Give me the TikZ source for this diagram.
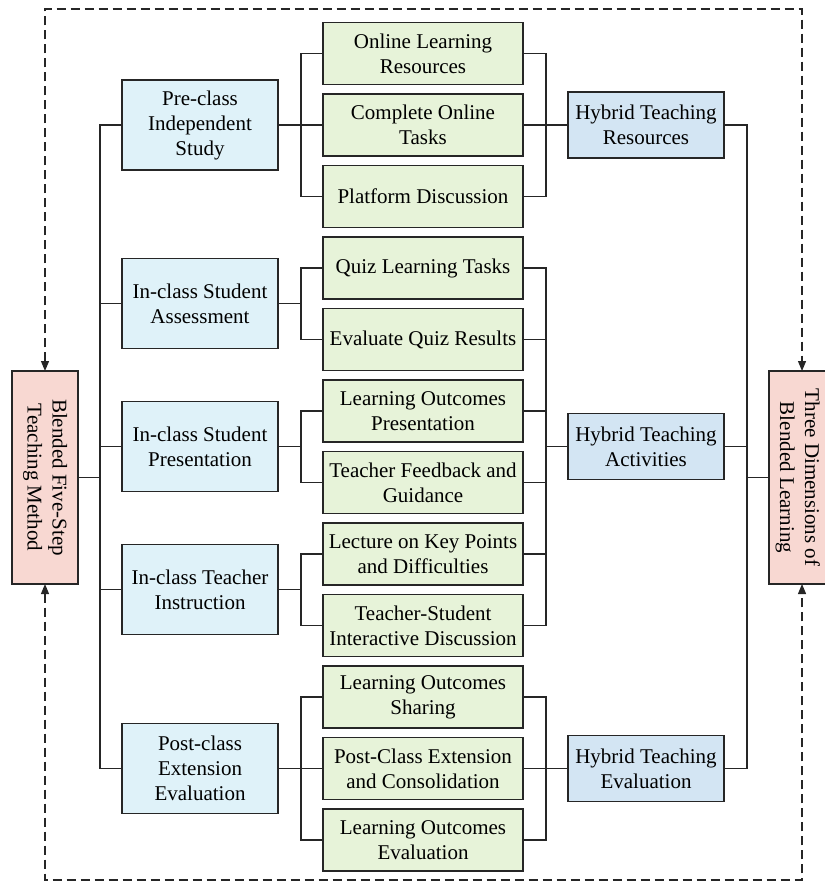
\documentclass[tikz,border=0pt]{standalone}
\usepackage{fontspec}
\setmainfont{Liberation Serif}
\usetikzlibrary{positioning,calc,arrows.meta}
\definecolor{stepblue}{HTML}{DFF2F9}
\definecolor{taskgreen}{HTML}{E7F3D9}
\definecolor{hybblue}{HTML}{D3E5F3}
\definecolor{dimpink}{HTML}{F8D8D2}
\tikzset{
  box/.style={draw=black!85,line width=1.2pt,align=center,inner sep=2pt,outer sep=0pt,font=\fontsize{21}{25}\selectfont},
  stepbox/.style={box,fill=stepblue,minimum width=156pt,minimum height=90pt},
  taskbox/.style={box,fill=taskgreen,minimum width=200pt,minimum height=62pt},
  hybbox/.style={box,fill=hybblue,minimum width=156pt,minimum height=66pt},
  dimbox/.style={box,fill=dimpink,minimum width=66pt,minimum height=213pt},
  link/.style={line width=1.2pt,draw=black!85},
  loopback/.style={line width=1.2pt,draw=black!85,dash pattern=on 9pt off 5pt,
    {Triangle[length=10pt,width=8pt]}-{Triangle[length=10pt,width=8pt]}}
}

\begin{document}
\begin{tikzpicture}[x=1pt,y=-1pt,node distance=9.5pt]
\useasboundingbox (0,0) rectangle (824,885);
\node[taskbox] (g1) at (423,53.5) {Online Learning\\Resources};
\node[taskbox,below=of g1] (g2) {Complete Online\\Tasks};
\node[taskbox,below=of g2] (g3) {Platform Discussion};
\node[taskbox,below=of g3] (g4) {Quiz Learning Tasks};
\node[taskbox,below=of g4] (g5) {Evaluate Quiz Results};
\node[taskbox,below=of g5] (g6) {Learning Outcomes\\Presentation};
\node[taskbox,below=of g6] (g7) {Teacher Feedback and\\Guidance};
\node[taskbox,below=of g7] (g8) {Lecture on Key Points\\and Difficulties};
\node[taskbox,below=of g8] (g9) {Teacher-Student\\Interactive Discussion};
\node[taskbox,below=of g9] (g10) {Learning Outcomes\\Sharing};
\node[taskbox,below=of g10] (g11) {Post-Class Extension\\and Consolidation};
\node[taskbox,below=of g11] (g12) {Learning Outcomes\\Evaluation};
\coordinate (m45) at ($(g4.west)!0.5!(g5.west)$);
\coordinate (m67) at ($(g6.west)!0.5!(g7.west)$);
\coordinate (m89) at ($(g8.west)!0.5!(g9.west)$);
\coordinate (n67) at ($(g6.east)!0.5!(g7.east)$);
\node[stepbox,left=45pt of g2] (pre) {Pre-class\\Independent\\Study};
\node[stepbox,left=45pt of m45] (asse) {In-class Student\\Assessment};
\node[stepbox,left=45pt of m67] (pres) {In-class Student\\Presentation};
\node[stepbox,left=45pt of m89] (inst) {In-class Teacher\\Instruction};
\node[stepbox,left=45pt of g11] (post) {Post-class\\Extension\\Evaluation};
\node[hybbox,right=45pt of g2] (res) {Hybrid Teaching\\Resources};
\node[hybbox,right=45pt of n67] (act) {Hybrid Teaching\\Activities};
\node[hybbox,right=45pt of g11] (eva) {Hybrid Teaching\\Evaluation};
\node[dimbox] (blend) at (45,477.5) {\rotatebox{-90}{\begin{tabular}{@{}c@{}}Blended Five-Step\\Teaching Method\end{tabular}}};
\node[dimbox] (three) at (802,477.5) {\rotatebox{-90}{\begin{tabular}{@{}c@{}}Three Dimensions of\\Blended Learning\end{tabular}}\hspace{9pt}};
\coordinate (ftop) at (0,9);
\coordinate (fbot) at (0,880);

\draw[link] (blend.east) -- ++(22,0) |- (pre.west);
\draw[link] (blend.east) -- ++(22,0) |- (asse.west);
\draw[link] (blend.east) -- ++(22,0) |- (pres.west);
\draw[link] (blend.east) -- ++(22,0) |- (inst.west);
\draw[link] (blend.east) -- ++(22,0) |- (post.west);

\draw[link] (pre.east) -- ++(23,0) |- (g1.west);
\draw[link] (pre.east) -- ++(23,0) |- (g2.west);
\draw[link] (pre.east) -- ++(23,0) |- (g3.west);
\draw[link] (asse.east) -- ++(23,0) |- (g4.west);
\draw[link] (asse.east) -- ++(23,0) |- (g5.west);
\draw[link] (pres.east) -- ++(23,0) |- (g6.west);
\draw[link] (pres.east) -- ++(23,0) |- (g7.west);
\draw[link] (inst.east) -- ++(23,0) |- (g8.west);
\draw[link] (inst.east) -- ++(23,0) |- (g9.west);
\draw[link] (post.east) -- ++(23,0) |- (g10.west);
\draw[link] (post.east) -- ++(23,0) |- (g11.west);
\draw[link] (post.east) -- ++(23,0) |- (g12.west);

\draw[link] (res.west) -- ++(-22,0) |- (g1.east);
\draw[link] (res.west) -- ++(-22,0) |- (g2.east);
\draw[link] (res.west) -- ++(-22,0) |- (g3.east);
\draw[link] (act.west) -- ++(-22,0) |- (g4.east);
\draw[link] (act.west) -- ++(-22,0) |- (g5.east);
\draw[link] (act.west) -- ++(-22,0) |- (g6.east);
\draw[link] (act.west) -- ++(-22,0) |- (g7.east);
\draw[link] (act.west) -- ++(-22,0) |- (g8.east);
\draw[link] (act.west) -- ++(-22,0) |- (g9.east);
\draw[link] (eva.west) -- ++(-22,0) |- (g10.east);
\draw[link] (eva.west) -- ++(-22,0) |- (g11.east);
\draw[link] (eva.west) -- ++(-22,0) |- (g12.east);

\draw[link] (three.west) -- ++(-22,0) |- (res.east);
\draw[link] (three.west) -- ++(-22,0) |- (act.east);
\draw[link] (three.west) -- ++(-22,0) |- (eva.east);

\draw[loopback] (blend.north) -- (blend.north |- ftop) -| (three.north);
\draw[loopback] (blend.south) -- (blend.south |- fbot) -| (three.south);
\end{tikzpicture}
\end{document}
